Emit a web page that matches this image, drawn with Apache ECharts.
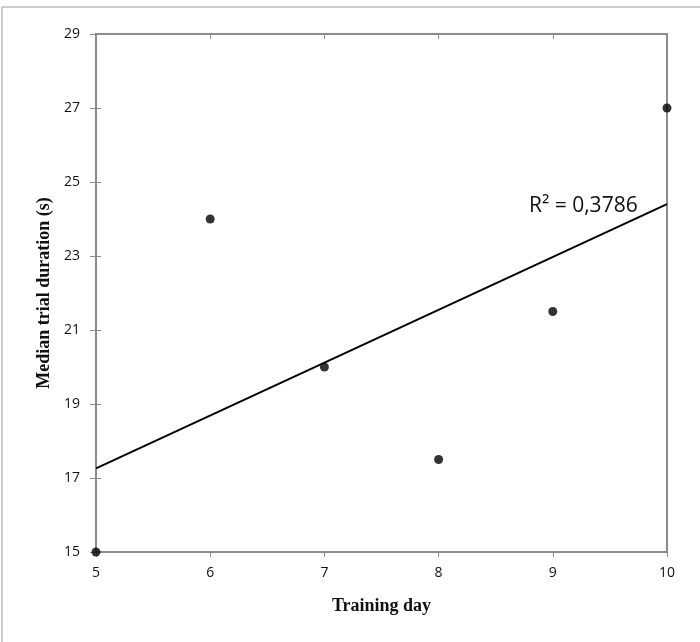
<!DOCTYPE html>
<html>
<head>
<meta charset="utf-8">
<script src="https://cdn.jsdelivr.net/npm/echarts@6/dist/echarts.min.js"></script>
<style>html,body{margin:0;padding:0;background:#fff;}#c{width:700px;height:642px;}</style>
</head>
<body>
<div id="c"></div>
<script>
const days = [5, 6, 7, 8, 9, 10];
const medianDuration = [15, 24, 20, 17.5, 21.5, 27];
const trendX = [5, 10];
const trendY = [17.26, 24.4];
const r2Label = 'R² = 0,3786';
const xTitle = 'Training day';
const yTitle = 'Median trial duration (s)';

const chart = echarts.init(document.getElementById('c'), null, {renderer: 'canvas'});
const axisColor = '#8c8c8c';
const tickFont = {color: '#111', fontSize: 14, fontFamily: 'Open Sans'};
const baseX = {type: 'value', min: 5, max: 10, interval: 1};
const baseY = {type: 'value', min: 15, max: 29, interval: 2};
chart.setOption({
  animation: false,
  backgroundColor: '#fff',
  graphic: [
    {type: 'rect', shape: {x: 2, y: 7, width: 720, height: 660}, style: {fill: 'none', stroke: '#999', lineWidth: 1}, z: -1},
    {type: 'text', left: 529, top: 196, style: {text: r2Label, fontSize: 21, fontFamily: 'Open Sans', fill: '#111'}}
  ],
  grid: {left: 96, right: 33, top: 34, bottom: 90, show: true, borderColor: axisColor, borderWidth: 2, backgroundColor: 'transparent'},
  xAxis: [
    Object.assign({}, baseX, {
      name: xTitle, nameLocation: 'middle', nameGap: 45,
      nameTextStyle: {fontFamily: 'Liberation Serif', fontWeight: 'bold', fontSize: 18, color: '#111'},
      axisLine: {lineStyle: {color: axisColor, width: 2}},
      axisTick: {show: true, length: 5, lineStyle: {color: axisColor}},
      axisLabel: Object.assign({margin: 14}, tickFont),
      splitLine: {show: false}
    }),
    Object.assign({}, baseX, {
      axisLine: {show: false},
      axisTick: {show: true, inside: true, length: 5, lineStyle: {color: axisColor}},
      axisLabel: {show: false}, splitLine: {show: false}
    })
  ],
  yAxis: [
    Object.assign({}, baseY, {
      name: yTitle, nameLocation: 'middle', nameGap: 37,
      nameTextStyle: {fontFamily: 'Liberation Serif', fontWeight: 'bold', fontSize: 18, color: '#111'},
      axisLine: {lineStyle: {color: axisColor, width: 2}},
      axisTick: {show: true, length: 6, lineStyle: {color: axisColor}},
      axisLabel: Object.assign({margin: 16}, tickFont),
      splitLine: {show: false}
    }),
    Object.assign({}, baseY, {
      position: 'left',
      axisLine: {show: false},
      axisTick: {show: true, inside: true, length: 5, lineStyle: {color: axisColor}},
      axisLabel: {show: false}, splitLine: {show: false}
    })
  ],
  series: [
    {
      type: 'line',
      data: trendX.map((x, i) => [x, trendY[i]]),
      symbol: 'none',
      lineStyle: {color: '#000', width: 2},
      z: 3
    },
    {
      type: 'scatter',
      data: days.map((d, i) => [d, medianDuration[i]]),
      symbol: 'circle',
      symbolSize: 9,
      itemStyle: {color: '#000'},
      z: 5
    }
  ]
});
</script>
</body>
</html>
